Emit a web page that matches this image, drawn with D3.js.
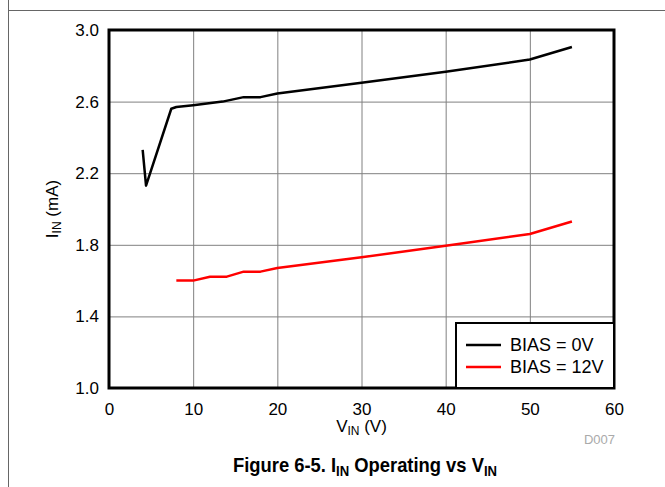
<!DOCTYPE html>
<html lang="en">
<head>
    <meta charset="UTF-8">
    <title>IIN Operating vs VIN</title>
    <style>
        body { margin: 0; padding: 0; background: #fff; }
        svg { display: block; font-family: "Liberation Sans", Arial, sans-serif; }
        .grid line { stroke: #808080; stroke-width: 1; }
        .tick text { font-size: 17px; fill: #000; }
    </style>
</head>
<body>
    <div id="chart"></div>
    <script src="https://d3js.org/d3.v7.min.js"></script>
    <script>
        // data
        const xTicks = [0, 10, 20, 30, 40, 50, 60];
        const yTicks = [1.0, 1.4, 1.8, 2.2, 2.6, 3.0];

        const vinBias0 = [4, 4.4, 7.4, 8, 10, 13.5, 16, 18, 20, 30, 40, 50, 55];
        const iinBias0 = [2.33, 2.13, 2.56, 2.57, 2.58, 2.60, 2.625, 2.625, 2.645, 2.705, 2.767, 2.835, 2.905];

        const vinBias12 = [8, 10, 12, 14, 16, 18, 20, 30, 40, 50, 55];
        const iinBias12 = [1.60, 1.60, 1.622, 1.622, 1.65, 1.65, 1.67, 1.73, 1.795, 1.86, 1.93];

        const seriesNames = ["BIAS = 0V", "BIAS = 12V"];
        const seriesColors = ["#000000", "#ff0000"];

        const W = 665, H = 487;
        const plot = { left: 109, right: 614, top: 30, bottom: 388 };

        const svg = d3.select("#chart").append("svg")
            .attr("width", W).attr("height", H);

        // page frame
        svg.append("line").attr("x1", 8.5).attr("x2", 8.5).attr("y1", 0).attr("y2", H)
            .attr("stroke", "#666").attr("stroke-width", 1);
        svg.append("line").attr("x1", 8).attr("x2", W).attr("y1", 10.5).attr("y2", 10.5)
            .attr("stroke", "#666").attr("stroke-width", 1);

        const x = d3.scaleLinear().domain([0, 60]).range([plot.left, plot.right]);
        const y = d3.scaleLinear().domain([1.0, 3.0]).range([plot.bottom, plot.top]);

        // grid
        svg.append("g").attr("class", "grid")
            .attr("transform", `translate(0,${plot.bottom})`)
            .call(d3.axisBottom(x).tickValues(xTicks).tickSize(-(plot.bottom - plot.top)).tickFormat(""))
            .call(g => g.select(".domain").remove());
        svg.append("g").attr("class", "grid")
            .attr("transform", `translate(${plot.left},0)`)
            .call(d3.axisLeft(y).tickValues(yTicks).tickSize(-(plot.right - plot.left)).tickFormat(""))
            .call(g => g.select(".domain").remove());

        // tick labels
        svg.append("g")
            .attr("transform", `translate(0,${plot.bottom})`)
            .call(d3.axisBottom(x).tickValues(xTicks).tickSize(0).tickPadding(15).tickFormat(d3.format("d")))
            .call(g => g.select(".domain").remove());
        svg.append("g")
            .attr("transform", `translate(${plot.left},0)`)
            .call(d3.axisLeft(y).tickValues(yTicks).tickSize(0).tickPadding(10).tickFormat(d3.format(".1f")))
            .call(g => g.select(".domain").remove());

        // curves
        const line = d3.line().x(d => x(d[0])).y(d => y(d[1]));
        const series = [
            d3.zip(vinBias0, iinBias0),
            d3.zip(vinBias12, iinBias12)
        ];
        series.forEach((s, i) => {
            svg.append("path").datum(s)
                .attr("d", line)
                .attr("fill", "none")
                .attr("stroke", seriesColors[i])
                .attr("stroke-width", 2.5)
                .attr("stroke-linejoin", "round");
        });

        // plot border
        svg.append("rect")
            .attr("x", plot.left).attr("y", plot.top)
            .attr("width", plot.right - plot.left).attr("height", plot.bottom - plot.top)
            .attr("fill", "none").attr("stroke", "#000").attr("stroke-width", 3);

        // legend
        const lg = svg.append("g").attr("transform", `translate(456,323)`);
        lg.append("rect").attr("width", plot.right - 456).attr("height", plot.bottom - 323)
            .attr("fill", "#fff").attr("stroke", "#000").attr("stroke-width", 2);
        seriesNames.forEach((name, i) => {
            const yy = 22 + i * 22;
            lg.append("line").attr("x1", 10).attr("x2", 45).attr("y1", yy).attr("y2", yy)
                .attr("stroke", seriesColors[i]).attr("stroke-width", 2.5);
            lg.append("text").attr("x", 54).attr("y", yy + 6)
                .attr("font-size", 18).text(name);
        });

        // axis titles
        const xt = svg.append("text")
            .attr("x", (plot.left + plot.right) / 2).attr("y", 432)
            .attr("text-anchor", "middle").attr("font-size", 17);
        xt.append("tspan").text("V");
        xt.append("tspan").attr("font-size", 12).attr("dy", 3).text("IN");
        xt.append("tspan").attr("dy", -3).text(" (V)");

        const yt = svg.append("text")
            .attr("transform", `translate(58,${(plot.top + plot.bottom) / 2}) rotate(-90)`)
            .attr("text-anchor", "middle").attr("font-size", 17);
        yt.append("tspan").text("I");
        yt.append("tspan").attr("font-size", 12).attr("dy", 3).text("IN");
        yt.append("tspan").attr("dy", -3).text(" (mA)");

        svg.append("text").attr("x", 615).attr("y", 444)
            .attr("text-anchor", "end").attr("font-size", 13).attr("fill", "#aaa").text("D007");

        // figure caption
        const ft = svg.append("text")
            .attr("transform", "translate(365,472) scale(0.875,1)")
            .attr("text-anchor", "middle").attr("font-size", 21).attr("font-weight", "bold");
        ft.append("tspan").text("Figure 6-5. I");
        ft.append("tspan").attr("font-size", 15).attr("dy", 4).text("IN");
        ft.append("tspan").attr("dy", -4).text(" Operating vs V");
        ft.append("tspan").attr("font-size", 15).attr("dy", 4).text("IN");
    </script>
</body>
</html>
